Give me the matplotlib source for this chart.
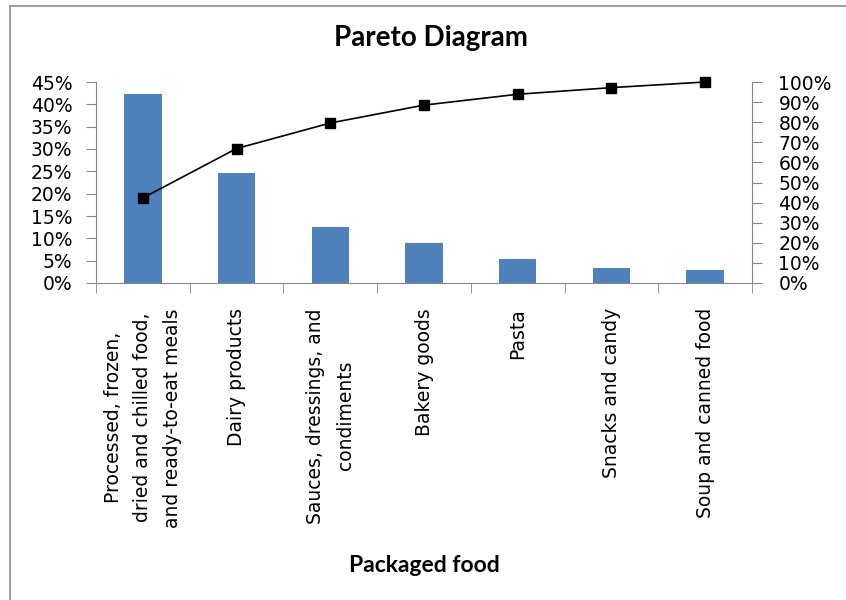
import matplotlib.pyplot as plt
from matplotlib.lines import Line2D
from matplotlib.ticker import FixedLocator, PercentFormatter

categories = [
    "Processed, frozen,\ndried and chilled food,\nand ready-to-eat meals",
    "Dairy products",
    "Sauces, dressings, and\ncondiments",
    "Bakery goods",
    "Pasta",
    "Snacks and candy",
    "Soup and canned food",
]
share = [42.3, 24.6, 12.6, 8.9, 5.4, 3.3, 2.9]
cumulative = [42.3, 66.9, 79.6, 88.5, 93.9, 97.2, 100.0]

W, H = 846, 600
bar_color = "#4F81BD"
axis_color = "#868686"

plt.rcParams["font.family"] = ["DejaVu Sans"]

fig = plt.figure(figsize=(W / 100, H / 100), dpi=100)
ax = fig.add_axes([96 / W, 1 - 283 / H, (752 - 96) / W, (283 - 82) / H])
ax2 = ax.twinx()

x = list(range(len(categories)))
ax.bar(x, share, width=0.4, color=bar_color, zorder=2)
ax2.plot(x, cumulative, color="black", lw=1.2, marker="s", ms=6.5,
         mfc="black", mec="black", zorder=3, clip_on=False)

ax.set_xlim(-0.5, len(categories) - 0.5)
ax.set_ylim(0, 45)
ax2.set_ylim(0, 100)
ax.set_yticks(range(0, 46, 5))
ax2.set_yticks(range(0, 101, 10))
ax.yaxis.set_major_formatter(PercentFormatter(decimals=0))
ax2.yaxis.set_major_formatter(PercentFormatter(decimals=0))

# category labels at bar centres, tick marks at the boundaries
ax.set_xticks(x)
ax.set_xticklabels(categories, rotation=90, ha="center", va="top",
                   multialignment="center", linespacing=1.7, fontsize=13.5)
ax.tick_params(axis="x", which="major", length=0, pad=18)
ax.xaxis.set_minor_locator(FixedLocator([i - 0.5 for i in range(len(categories) + 1)]))
ax.tick_params(axis="x", which="minor", length=7, color=axis_color, direction="out")

ax.tick_params(axis="y", length=7, color=axis_color, labelsize=13.5, pad=10)
ax2.tick_params(axis="y", length=7, color=axis_color, labelsize=13.5, pad=12)

for a in (ax, ax2):
    a.spines["top"].set_visible(False)
    for s in ("left", "right", "bottom"):
        a.spines[s].set_color(axis_color)
ax.spines["right"].set_visible(False)
ax2.spines["left"].set_visible(False)
ax2.spines["bottom"].set_visible(False)

fig.text(431 / W, 1 - 38 / H, "Pareto Diagram", ha="center", va="center",
         fontsize=20, fontweight="bold", family="Lato")
fig.text(424 / W, 1 - 565 / H, "Packaged food", ha="center", va="center",
         fontsize=16.5, fontweight="bold", family="Lato")

# outer chart frame (top and left edges visible)
fig.add_artist(Line2D([9.5 / W, 1], [1 - 6 / H, 1 - 6 / H], color="#8c8c8c", lw=1.2))
fig.add_artist(Line2D([9.5 / W, 9.5 / W], [0, 1 - 6 / H], color="#8c8c8c", lw=1.2))

fig.savefig("out.png", dpi=100)
